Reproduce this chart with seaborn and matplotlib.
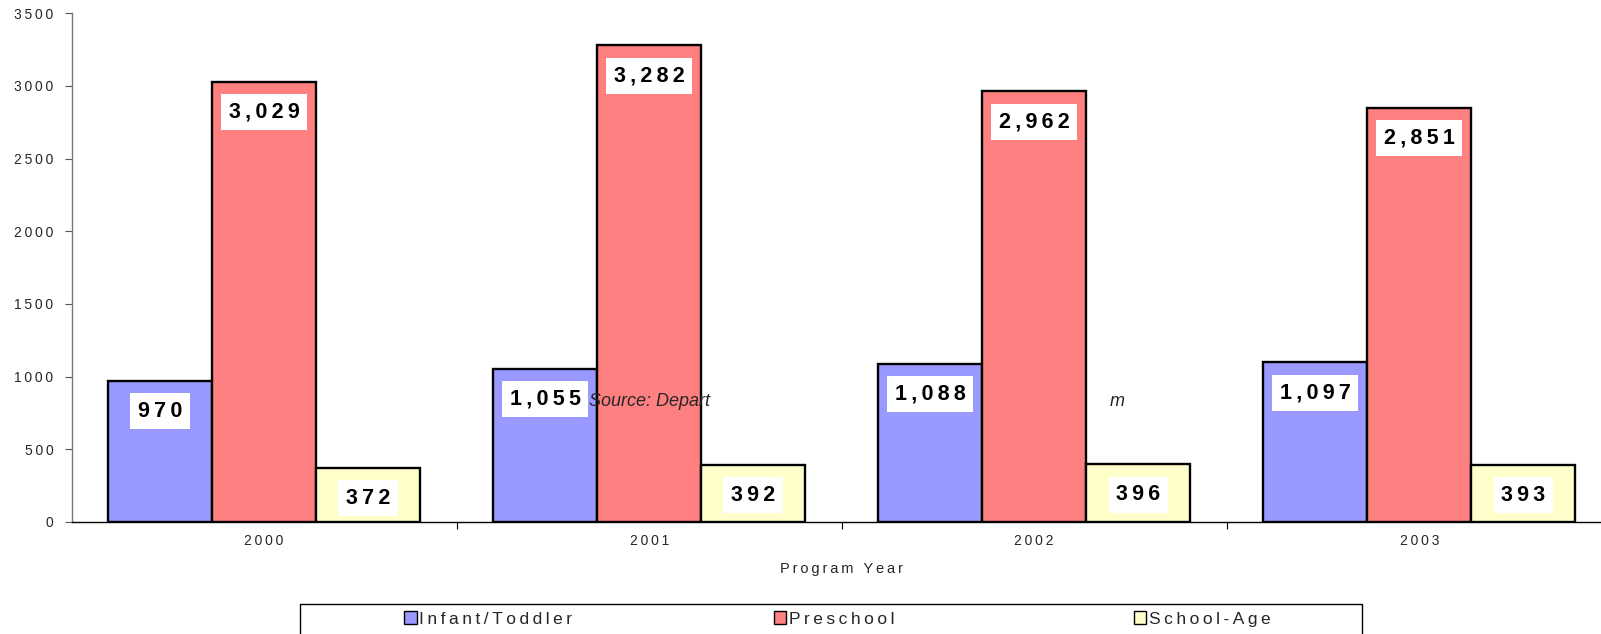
import pandas as pd
import numpy as np
import seaborn as sns
import matplotlib.pyplot as plt
from matplotlib.patches import Rectangle, Patch

# chart values
years = ['2000', '2001', '2002', '2003']
infant_toddler = [970, 1055, 1088, 1097]
preschool = [3029, 3282, 2962, 2851]
school_age = [372, 392, 396, 393]
series_names = ['Infant/Toddler', 'Preschool', 'School-Age']
colors = ['#9999FF', '#FF8080', '#FFFFCC']
y_ticks = [0, 500, 1000, 1500, 2000, 2500, 3000, 3500]

THIN = '\u2009'


def spaced(s, sep=THIN):
    # imitate the wide letter spacing of the original
    return sep.join(s)


df = pd.DataFrame({
    'year': years * 3,
    'group': [series_names[0]] * 4 + [series_names[1]] * 4 + [series_names[2]] * 4,
    'value': infant_toddler + preschool + school_age,
})

sns.set_theme(style='white')
plt.rcParams['font.family'] = ['Liberation Sans', 'DejaVu Sans']

fig = plt.figure(figsize=(16.01, 6.34), dpi=100)
ax = fig.add_axes([0.0447, 0.177, 0.962, 0.802])

sns.barplot(data=df, x='year', y='value', hue='group', order=years,
            hue_order=series_names, palette=colors, width=0.81,
            edgecolor='black', linewidth=1.7, saturation=1, ax=ax, legend=False)

# value labels in white boxes
for cont in ax.containers:
    for bar in cont:
        h = bar.get_height()
        ax.annotate(spaced(f'{int(h):,}'), (bar.get_x() + bar.get_width() / 2, h),
                    xytext=(0, -22), textcoords='offset points', ha='center', va='center',
                    fontsize=15.5, fontweight='bold', color='black',
                    bbox=dict(boxstyle='square,pad=0.35', fc='white', ec='none'))

ax.set_xlim(-0.5, 3.5)
ax.set_ylim(0, 3500)
ax.set_yticks(y_ticks)
ax.set_yticklabels([spaced(str(t)) for t in y_ticks], fontsize=10)
ax.set_xticks(range(len(years)))
ax.set_xticklabels([spaced(y) for y in years], fontsize=10)
ax.set_xticks([0.5, 1.5, 2.5], minor=True)
ax.tick_params(axis='x', which='major', length=0, pad=9)
ax.tick_params(axis='x', which='minor', length=5, width=0.8, color='black', direction='out', bottom=True)
ax.tick_params(axis='y', which='major', length=5, width=0.8, color='#555555', direction='out', left=True, pad=8)
ax.set_xlabel(spaced('Program Year'), fontsize=10.5, labelpad=10)
ax.set_ylabel('')
for side in ['top', 'right']:
    ax.spines[side].set_visible(False)
ax.spines['left'].set_color('#777777')
ax.spines['bottom'].set_color('black')
ax.spines['left'].set_linewidth(1)
ax.spines['bottom'].set_linewidth(1)

# stray text pieces visible in the original
fig.text(589 / 1601, 1 - 401 / 634, 'Source: Depart', fontsize=13, style='italic', va='center')
fig.text(1110 / 1601, 1 - 401 / 634, 'm', fontsize=13, style='italic', va='center')

# legend frame + entries
fig.add_artist(Rectangle((0.1874, -0.05), 0.6634, 0.0973, transform=fig.transFigure,
                         fill=False, edgecolor='black', linewidth=1))
for name, col, xc in zip(series_names, colors, [0.305, 0.521, 0.751]):
    h = Patch(facecolor=col, edgecolor='black', linewidth=1)
    fig.legend([h], [spaced(name)], loc='center', bbox_to_anchor=(xc, 0.0237),
               frameon=False, fontsize=12.5, handlelength=0.7, handleheight=0.7,
               handletextpad=0.15, borderpad=0, borderaxespad=0)

fig.savefig('out.png', dpi=100)
